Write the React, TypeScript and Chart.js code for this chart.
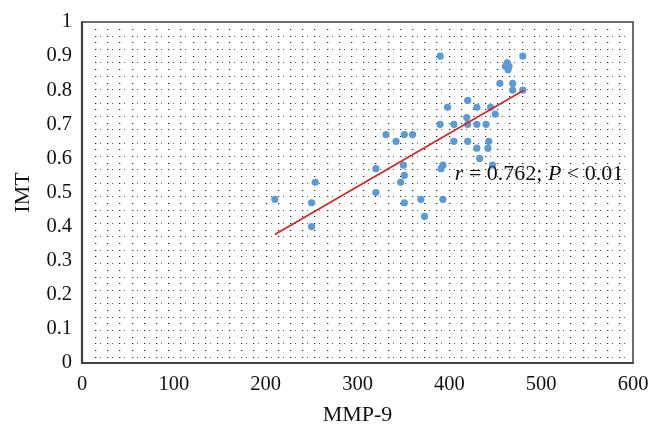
import React, { useEffect, useRef } from "react";
import { Chart, registerables } from "chart.js";

Chart.register(...registerables);

// Scatter data (MMP-9 vs IMT)
const mmp9: number[] = [
  390, 480, 463, 461, 464, 465, 455, 469, 469, 480,
  420, 398, 430, 445, 450, 419, 390, 405, 420, 430,
  440, 331, 342, 351, 360, 405, 420, 443, 430, 442,
  433, 447, 393, 391, 320, 350, 351, 347, 320, 351,
  369, 393, 373, 210, 254, 250, 250,
];
const imt: number[] = [
  0.90, 0.90, 0.88, 0.87, 0.86, 0.87, 0.82, 0.82, 0.80, 0.80,
  0.77, 0.75, 0.75, 0.75, 0.73, 0.72, 0.70, 0.70, 0.70, 0.70,
  0.70, 0.67, 0.65, 0.67, 0.67, 0.65, 0.65, 0.65, 0.63, 0.63,
  0.60, 0.58, 0.58, 0.57, 0.57, 0.58, 0.55, 0.53, 0.50, 0.47,
  0.48, 0.48, 0.43, 0.48, 0.53, 0.47, 0.40,
];

// Regression line end points
const fitX: number[] = [210, 481];
const fitY: number[] = [0.377, 0.80];

// Axis ticks
const xTicks: number[] = [0, 100, 200, 300, 400, 500, 600];
const yTickLabels: string[] = ["0", "0.1", "0.2", "0.3", "0.4", "0.5", "0.6", "0.7", "0.8", "0.9", "1"];

// Annotation
const annText: { t: string; italic: boolean }[] = [
  { t: "r", italic: true },
  { t: " = 0.762; ", italic: false },
  { t: "P", italic: true },
  { t: " < 0.01", italic: false },
];
const annPos: number[] = [406, 0.553];

const FONT = "'Liberation Serif', 'Times New Roman', serif";

const dotPattern = {
  id: "dotPattern",
  beforeDatasetsDraw(chart: any) {
    const { ctx, chartArea } = chart;
    const { left, right, top, bottom } = chartArea;
    ctx.save();
    const sx = 12.19;
    const sy = 6.69;
    let row = 0;
    for (let y = top + 7; y < bottom - 2; y += sy, row++) {
      for (let x = left + 13; x < right - 2; x += sx) {
        const rx = Math.round(x);
        const ry = Math.round(y);
        ctx.fillStyle = "#c4c4c4";
        ctx.fillRect(rx + 1, ry, 1, 1);
        ctx.fillStyle = "#262626";
        ctx.fillRect(rx, ry, 1, 1);
        if (row % 2 === 1) {
          ctx.fillStyle = "#606060";
          ctx.fillRect(Math.round(x + 5), ry, 1, 1);
        }
      }
    }
    ctx.restore();
  },
  afterDraw(chart: any) {
    const { ctx, chartArea } = chart;
    const { left, right, top, bottom } = chartArea;
    ctx.save();
    ctx.strokeStyle = "#404040";
    ctx.lineWidth = 1.5;
    ctx.beginPath();
    ctx.moveTo(left, top);
    ctx.lineTo(right, top);
    ctx.lineTo(right, bottom);
    ctx.stroke();
    ctx.lineWidth = 2.2;
    ctx.beginPath();
    ctx.moveTo(left, top - 0.7);
    ctx.lineTo(left, bottom);
    ctx.lineTo(right + 0.7, bottom);
    ctx.stroke();
    ctx.restore();
  },
};

const annotation = {
  id: "annotation",
  afterDatasetsDraw(chart: any) {
    const { ctx } = chart;
    const xs = chart.scales.x;
    const ys = chart.scales.y;
    let px = xs.getPixelForValue(annPos[0]);
    const py = ys.getPixelForValue(annPos[1]);
    ctx.save();
    ctx.fillStyle = "#111";
    ctx.textBaseline = "middle";
    ctx.textAlign = "left";
    for (const seg of annText) {
      ctx.font = `${seg.italic ? "italic " : ""}22px ${FONT}`;
      ctx.fillText(seg.t, px, py);
      px += ctx.measureText(seg.t).width;
    }
    ctx.restore();
  },
};

const zeroPad = (s: any) => {
  s.paddingTop = 0;
  s.paddingBottom = 0;
  s.paddingLeft = 0;
  s.paddingRight = 0;
};

export default function App() {
  const ref = useRef<HTMLCanvasElement | null>(null);

  useEffect(() => {
    if (!ref.current) return;
    const chart = new Chart(ref.current, {
      type: "scatter",
      data: {
        datasets: [
          {
            type: "line",
            data: fitX.map((x, i) => ({ x, y: fitY[i] })),
            borderColor: "#e0201c",
            borderWidth: 1.6,
            pointRadius: 0,
            fill: false,
          } as any,
          {
            type: "scatter",
            data: mmp9.map((x, i) => ({ x, y: imt[i] })),
            backgroundColor: "#5b9bd5",
            borderColor: "#5b9bd5",
            pointRadius: 3.6,
            borderWidth: 0,
          },
        ],
      },
      options: {
        animation: false,
        responsive: true,
        maintainAspectRatio: false,
        layout: { padding: { top: 14, right: 20, left: 0, bottom: 0 } },
        plugins: {
          legend: { display: false },
          tooltip: { enabled: false },
        },
        scales: {
          x: {
            type: "linear",
            min: 0,
            max: 600,
            afterBuildTicks: (s: any) => {
              s.ticks = xTicks.map((v) => ({ value: v }));
            },
            afterFit: (s: any) => {
              s.height = 63;
              zeroPad(s);
            },
            grid: { display: false, drawTicks: false },
            border: { display: false },
            ticks: {
              padding: 9,
              color: "#111",
              font: { family: FONT, size: 20.5 },
              maxRotation: 0,
            },
            title: {
              display: true,
              text: "MMP-9",
              color: "#111",
              font: { family: FONT, size: 22 },
              padding: { top: 0, bottom: -2 },
            },
          },
          y: {
            type: "linear",
            min: 0,
            max: 1,
            afterBuildTicks: (s: any) => {
              s.ticks = yTickLabels.map((_, i) => ({ value: i / 10 }));
            },
            afterFit: (s: any) => {
              s.width = 74;
              zeroPad(s);
            },
            grid: { display: false, drawTicks: false },
            border: { display: false },
            ticks: {
              padding: 10,
              color: "#111",
              font: { family: FONT, size: 20.5 },
              callback: (_v: any, i: number) => yTickLabels[i],
            },
            title: {
              display: true,
              text: "IMT",
              color: "#111",
              font: { family: FONT, size: 22 },
              padding: { top: 2, bottom: 0 },
            },
          },
        },
      },
      plugins: [dotPattern, annotation],
    });
    return () => chart.destroy();
  }, []);

  return (
    <div style={{ width: 645, height: 418, position: "relative" }}>
      <canvas ref={ref} />
    </div>
  );
}
